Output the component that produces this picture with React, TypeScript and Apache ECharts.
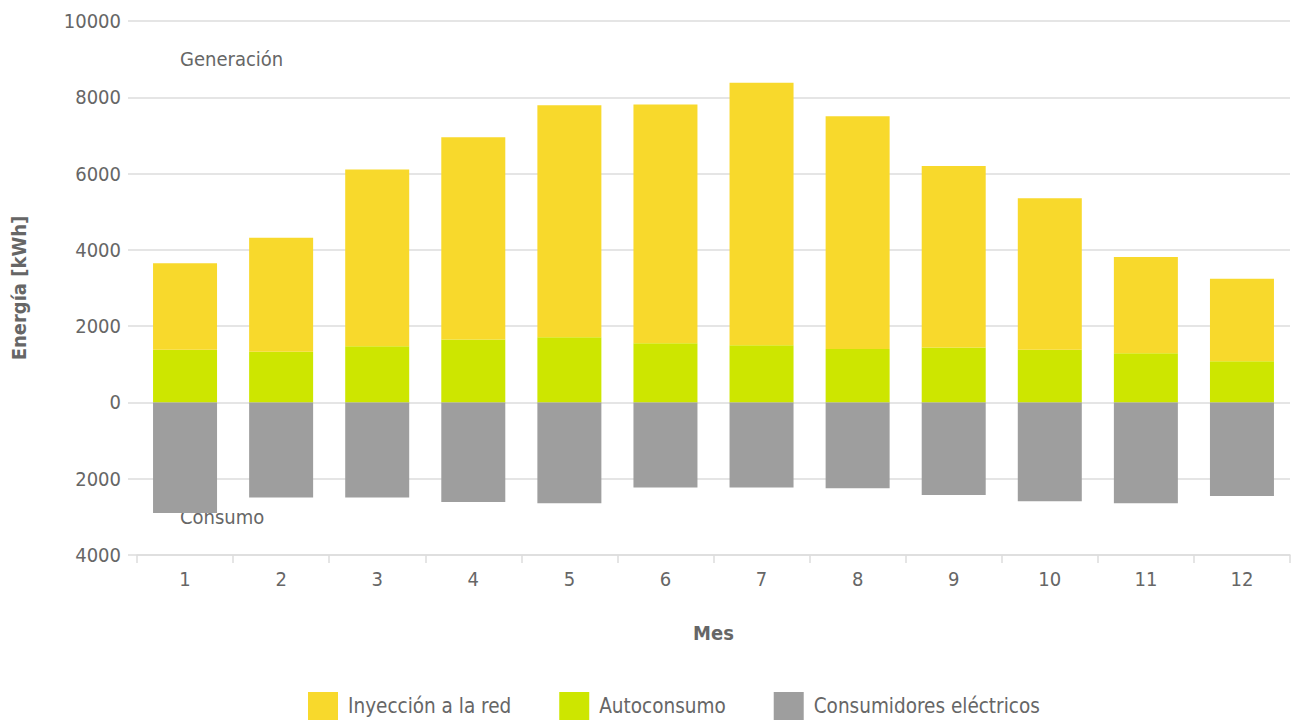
import React, { useEffect, useRef } from "react";
import * as echarts from "echarts";

// Monthly energy balance (kWh)
const months = ["1", "2", "3", "4", "5", "6", "7", "8", "9", "10", "11", "12"];
const autoconsumo = [1380, 1330, 1470, 1650, 1710, 1550, 1500, 1400, 1440, 1380, 1290, 1080];
const inyeccion = [2270, 2990, 4640, 5300, 6080, 6260, 6880, 6100, 4760, 3970, 2520, 2160];
const consumidores = [2900, 2490, 2490, 2610, 2640, 2230, 2230, 2250, 2430, 2590, 2640, 2450];

const FONT = "'DejaVu Sans Condensed', 'DejaVu Sans', sans-serif";
const TEXT = "#666666";
const GRID = "#dddddd";

export default function App() {
  const ref = useRef<HTMLDivElement>(null);

  useEffect(() => {
    if (!ref.current) return;
    const chart = echarts.init(ref.current, null, { renderer: "svg" });
    chart.setOption({
      animation: false,
      textStyle: { fontFamily: FONT, color: TEXT },
      grid: { left: 137, right: 5, top: 21, bottom: 167, containLabel: false },
      legend: {
        left: 308,
        top: 692,
        padding: 0,
        itemWidth: 30,
        itemHeight: 28,
        itemGap: 48,
        icon: "rect",
        data: ["Inyección a la red", "Autoconsumo", "Consumidores eléctricos"],
        textStyle: { fontFamily: FONT, fontSize: 20.5, color: TEXT, padding: [0, 0, 0, 5] },
      },
      xAxis: {
        type: "category",
        data: months,
        name: "Mes",
        nameLocation: "middle",
        nameGap: 68,
        nameTextStyle: { fontFamily: FONT, fontSize: 20, fontWeight: "bold", color: TEXT },
        axisLine: { show: true, onZero: false, lineStyle: { color: GRID, width: 1.5 } },
        axisTick: { show: true, length: 8, lineStyle: { color: GRID, width: 1.5 } },
        axisLabel: { fontFamily: FONT, fontSize: 20, color: TEXT, margin: 14 },
      },
      yAxis: {
        type: "value",
        min: -4000,
        max: 10000,
        interval: 2000,
        name: "Energía [kWh]",
        nameLocation: "middle",
        nameGap: 108,
        nameTextStyle: { fontFamily: FONT, fontSize: 20, fontWeight: "bold", color: TEXT },
        axisLine: { show: false },
        axisTick: { show: true, length: 9, lineStyle: { color: GRID, width: 1.5 } },
        splitLine: { show: true, lineStyle: { color: GRID, width: 1.5 } },
        axisLabel: {
          fontFamily: FONT,
          fontSize: 20,
          color: TEXT,
          margin: 16,
          formatter: (v: number) => String(Math.abs(v)),
        },
      },
      graphic: [
        {
          type: "text",
          left: 180,
          top: 49,
          style: { text: "Generación", fontFamily: FONT, fontSize: 20, fill: TEXT },
        },
        {
          type: "text",
          left: 180,
          top: 507,
          style: { text: "Consumo", fontFamily: FONT, fontSize: 20, fill: TEXT },
        },
      ],
      series: [
        {
          name: "Autoconsumo",
          type: "bar",
          stack: "energia",
          barWidth: 64,
          data: autoconsumo,
          itemStyle: { color: "#cde600" },
        },
        {
          name: "Inyección a la red",
          type: "bar",
          stack: "energia",
          barWidth: 64,
          data: inyeccion,
          itemStyle: { color: "#f8d92c" },
        },
        {
          name: "Consumidores eléctricos",
          type: "bar",
          stack: "energia",
          barWidth: 64,
          data: consumidores.map((v) => -v),
          itemStyle: { color: "#9e9e9e" },
        },
      ],
    });
    return () => chart.dispose();
  }, []);

  return (
    <div
      ref={ref}
      style={{ position: "fixed", left: 0, top: 0, width: 1295, height: 722, background: "#fff" }}
    />
  );
}
